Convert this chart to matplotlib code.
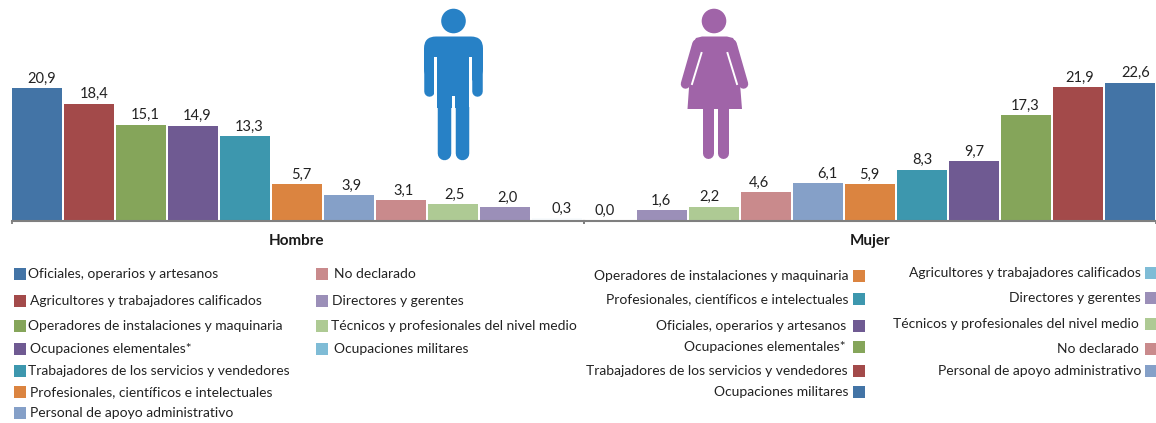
import matplotlib
matplotlib.use("Agg")
import matplotlib.pyplot as plt
from matplotlib.patches import Rectangle, Circle, Polygon, FancyBboxPatch
from matplotlib.lines import Line2D

plt.rcParams['font.family'] = ['Lato', 'DejaVu Sans']

# ---- data
OCC_BLUE, OCC_RED, OCC_GREEN, OCC_PURPLE, OCC_TEAL, OCC_ORANGE = '#4374a6', '#a34a4a', '#85a55a', '#6f5a92', '#3d97ae', '#db8440'
OCC_LBLUE, OCC_PINK, OCC_LGREEN, OCC_LAV, OCC_SKY = '#85a0c8', '#c98a8c', '#aeca94', '#9b8fb8', '#7fbcd6'

hombre_labels = ['Oficiales, operarios y artesanos', 'Agricultores y trabajadores calificados',
                 'Operadores de instalaciones y maquinaria', 'Ocupaciones elementales*',
                 'Trabajadores de los servicios y vendedores', 'Profesionales, científicos e intelectuales',
                 'Personal de apoyo administrativo', 'No declarado',
                 'Técnicos y profesionales del nivel medio', 'Directores y gerentes',
                 'Ocupaciones militares']
hombre_values = [20.9, 18.4, 15.1, 14.9, 13.3, 5.7, 3.9, 3.1, 2.5, 2.0, 0.3]
hombre_colors = [OCC_BLUE, OCC_RED, OCC_GREEN, OCC_PURPLE, OCC_TEAL, OCC_ORANGE,
                 OCC_LBLUE, OCC_PINK, OCC_LGREEN, OCC_LAV, OCC_SKY]
# the 0,3 bar is all but invisible in the reference
hombre_bar_colors = hombre_colors[:-1] + ['#f8fbfd']

mujer_labels = ['Agricultores y trabajadores calificados', 'Directores y gerentes',
                'Técnicos y profesionales del nivel medio', 'No declarado',
                'Personal de apoyo administrativo', 'Operadores de instalaciones y maquinaria',
                'Profesionales, científicos e intelectuales', 'Oficiales, operarios y artesanos',
                'Ocupaciones elementales*', 'Trabajadores de los servicios y vendedores',
                'Ocupaciones militares']
mujer_values = [0.0, 1.6, 2.2, 4.6, 6.1, 5.9, 8.3, 9.7, 17.3, 21.9, 22.6]
mujer_colors = [OCC_SKY, OCC_LAV, OCC_LGREEN, OCC_PINK, OCC_LBLUE, OCC_ORANGE,
                OCC_TEAL, OCC_PURPLE, OCC_GREEN, OCC_RED, OCC_BLUE]

# ---- layout (pixels)
W, H = 1156, 423
BASE = 220
hombre_nudge = [5, 5, 4, 4, 4, 4, 3, 3, 2, 2, 5]
mujer_nudge = [-5, -1, -5, -7, 9, -1, 0, 0, -1, 2, 6]
hombre_ley_y = [274, 301, 326, 349, 371, 392, 413, 274, 326, 301, 349]
hombre_ley_tx = [28, 30, 28, 30, 28, 30, 30, 334, 331, 332, 334]
hombre_ley_sx = [14, 14, 14, 14, 14, 14, 14, 316, 316, 316, 316]
mujer_ley_y = [273, 298, 324, 349, 371, 276, 299, 326, 347, 371, 392]
mujer_ley_tx = [1141, 1141, 1139, 1139, 1141, 848, 848, 846, 846, 848, 848]
mujer_ley_sx = [1145, 1145, 1145, 1145, 1145, 853, 853, 853, 853, 853, 853]

fig = plt.figure(figsize=(W / 100, H / 100), dpi=100, facecolor='white')
TXT = '#222222'
GREY = '#7f7f7f'


def panel(x0, x1, values, colors, scale, nudge, name, shift, label_x):
    ax = fig.add_axes([x0 / W, 1 - BASE / H, (x1 - x0) / W, BASE / H])
    xs = list(range(len(values)))
    ax.bar(xs, values, width=0.96, color=colors, linewidth=0)
    ax.set_xlim(-0.5 + shift, len(values) - 0.5 + shift)
    ax.set_ylim(0, BASE / scale)
    ax.patch.set_alpha(0)
    for s in ('top', 'left', 'right'):
        ax.spines[s].set_visible(False)
    ax.spines['bottom'].set_position(('outward', 0.5))
    ax.spines['bottom'].set_color(GREY)
    ax.spines['bottom'].set_linewidth(1.5)
    ax.set_yticks([])
    ax.set_xticks([-0.5 + shift, len(values) - 0.5 + shift])
    ax.set_xticklabels([])
    ax.tick_params(axis='x', length=2.5, width=1.3, color=GREY)
    ax.set_xlabel(name, fontsize=11, fontweight='bold', color='#1a1a1a')
    ax.xaxis.set_label_coords(label_x, -13.5 / BASE)
    for x, v, n in zip(xs, values, nudge):
        ax.annotate(f'{v:.1f}'.replace('.', ','), (x, v), xytext=(n * 0.72, 1.8),
                    textcoords='offset points', ha='center', va='bottom',
                    fontsize=10.5, color=TXT)


panel(12, 584, hombre_values, hombre_bar_colors, 6.32, hombre_nudge, 'Hombre', 0.02, 0.497)
panel(584, 1156, mujer_values, mujer_colors, 6.07, mujer_nudge, 'Mujer', 0.0, 0.5)

# overlay in pixel coordinates for legends and pictograms
ov = fig.add_axes([0, 0, 1, 1])
ov.set_xlim(0, W)
ov.set_ylim(H, 0)
ov.axis('off')
ov.patch.set_alpha(0)

for lab, col, y, tx, sx in zip(hombre_labels, hombre_colors, hombre_ley_y, hombre_ley_tx, hombre_ley_sx):
    ov.add_patch(Rectangle((sx, y - 5.5), 11.5, 11.5, color=col, lw=0))
    ov.text(tx, y, lab, fontsize=10, color=TXT, va='center', ha='left')
for lab, col, y, tx, sx in zip(mujer_labels, mujer_colors, mujer_ley_y, mujer_ley_tx, mujer_ley_sx):
    ov.add_patch(Rectangle((sx, y - 5.5), 11.5, 11.5, color=col, lw=0))
    ov.text(tx, y, lab, fontsize=10, color=TXT, va='center', ha='right')


def stroke(x, y, w, col, z=2):
    ov.add_line(Line2D(x, y, color=col, lw=w * 0.72, solid_capstyle='round',
                       solid_joinstyle='round', zorder=z))


# man pictogram
MAN = '#2781c6'
ov.add_patch(Circle((453.5, 21), 12.3, color=MAN, lw=0))
ov.add_patch(FancyBboxPatch((436, 48.5), 35, 20, boxstyle='round,pad=12,rounding_size=12',
                            fc=MAN, ec='none', zorder=2))
ov.add_patch(Rectangle((437.3, 56), 31.4, 52, color=MAN, lw=0, zorder=2))
stroke([429, 429], [60, 91.5], 10.5, MAN)
stroke([477, 477], [60, 91.5], 10.5, MAN)
stroke([444, 444], [100, 153.5], 13.5, MAN)
stroke([461.9, 461.9], [100, 153.5], 13.5, MAN)
for xa, xb in [(434.3, 437.3), (468.7, 471.7)]:
    ov.add_patch(Rectangle((xa, 57), xb - xa, 50, color='white', lw=0, zorder=3))
ov.add_patch(Rectangle((451.6, 96), 3.3, 66, color='white', lw=0, zorder=3))

# woman pictogram
WOM = '#a064a8'
ov.add_patch(Circle((714, 21), 12.3, color=WOM, lw=0))
ov.add_patch(Polygon([(702, 36.5), (727, 36.5), (733, 38), (737, 45), (742, 109), (687.5, 109), (692, 45), (696, 38)],
                     closed=True, fc=WOM, ec=WOM, lw=0, zorder=2))
stroke([697, 685.5], [44, 84], 9.5, WOM)
stroke([732, 743.5], [44, 84], 9.5, WOM)
ov.add_line(Line2D([701.5, 692], [53, 84], color='white', lw=1.4, zorder=3))
ov.add_line(Line2D([727.5, 737], [53, 84], color='white', lw=1.4, zorder=3))
stroke([707.5, 707.5], [105, 153], 11, WOM)
stroke([722.5, 722.5], [105, 153], 11, WOM)

fig.savefig('out.png', dpi=100, facecolor='white')
